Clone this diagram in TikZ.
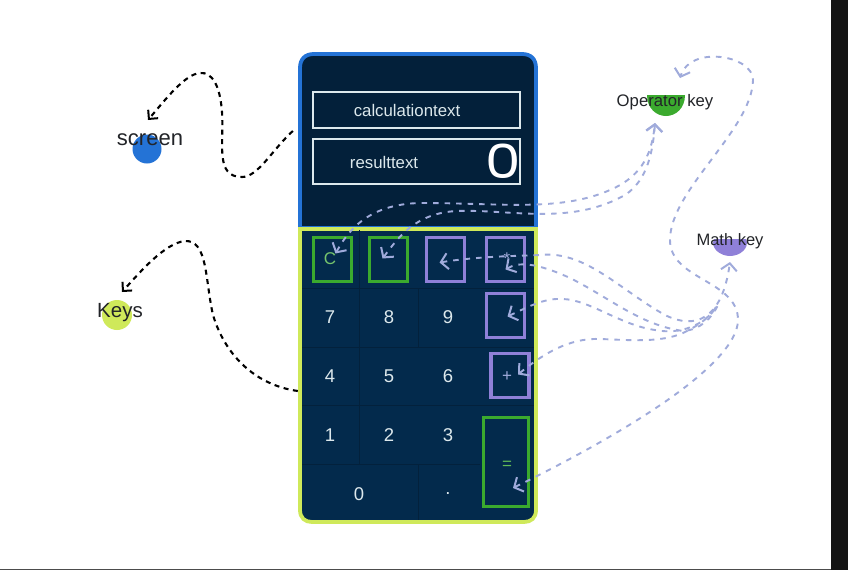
\documentclass[tikz,border=0pt]{standalone}
\usepackage{fontspec}
\setmainfont{Liberation Sans}
\newfontfamily\bigzero{Poppins}
\usetikzlibrary{arrows.meta}
\definecolor{screenbg}{HTML}{03203A}
\definecolor{keybg}{HTML}{032A4C}
\definecolor{gridc}{HTML}{03213C}
\definecolor{bluec}{HTML}{2473D6}
\definecolor{limec}{HTML}{CFE95A}
\definecolor{greenc}{HTML}{3BAA2E}
\definecolor{purplec}{HTML}{8F80D8}
\definecolor{linkc}{HTML}{A0ABDB}
\definecolor{inkc}{HTML}{222428}
\definecolor{keytext}{HTML}{DCE8EC}
\tikzset{
  opbox/.style n args={3}{draw=#1,line width=3.2pt,inner sep=0pt,minimum width=#2,minimum height=#3},
  txtbox/.style n args={2}{draw=keytext,line width=1.6pt,inner sep=0pt,minimum width=#1,minimum height=#2},
  num/.style={text=keytext,font=\fontsize{18.5}{20}\selectfont,inner sep=0pt},
  lab/.style={text=inkc,inner sep=0pt},
  dot/.style={circle,inner sep=0pt,minimum size=#1},
  blacklink/.style={draw=black,line width=2.1pt,dash pattern=on 5pt off 4.5pt,-{Straight Barb[length=6.5pt,width=13pt,line width=2pt]}},
  bluelink/.style={draw=linkc,line width=1.9pt,dash pattern=on 5.5pt off 6pt,{Straight Barb[length=7pt,width=16pt,line width=2pt]}-{Straight Barb[length=7pt,width=16pt,line width=2pt]}},
  plainlink/.style={draw=linkc,line width=1.9pt,dash pattern=on 5.5pt off 6pt,{Straight Barb[length=7pt,width=16pt,line width=2pt]}-},
}
\begin{document}
\begin{tikzpicture}[x=1pt,y=-1pt]
\useasboundingbox (0,0) rectangle (848,570);
\fill[white] (0,0) rectangle (848,570);
\fill[black!92] (831,0) rectangle (848,570);
\fill[black!70] (0,568.5) rectangle (831,570);
% panels
\path[fill=screenbg,draw=bluec,line width=3.8pt] (300,228) -- (300,68) .. controls (300,59) and (305,54) .. (314,54) -- (522,54) .. controls (531,54) and (536,59) .. (536,68) -- (536,228) -- cycle;
\path[fill=keybg,draw=limec,line width=3.8pt] (300,229) -- (536,229) -- (536,510) .. controls (536,518) and (531,522) .. (524,522) -- (312,522) .. controls (305,522) and (300,518) .. (300,510) -- cycle;
\node[inner sep=0pt,minimum width=238pt,minimum height=174pt] (screenP) at (418,141) {};
\node[inner sep=0pt,minimum width=238pt,minimum height=295pt] (keysP) at (418,376) {};
% grid
\draw[gridc,line width=.7pt] (302,288) -- (534,288) (302,347) -- (534,347) (302,405) -- (534,405) (302,464) -- (480,464);
\draw[gridc,line width=.7pt] (359,230) -- (359,464) (418,288) -- (418,347) (418,464) -- (418,520);
% text boxes
\node[txtbox={207pt}{36pt}] (calc) at (416.5,110) {};
\node[txtbox={207pt}{45pt}] (res) at (416.5,161.5) {};
\node[text=keytext,font=\fontsize{16.8}{18}\selectfont,inner sep=0pt] (calct) at (407,110) {calculationtext};
\node[text=keytext,font=\fontsize{16.8}{18}\selectfont,inner sep=0pt] (rest) at (384,162) {resulttext};
\node[text=white,font=\bigzero\fontsize{47}{50}\selectfont,inner sep=0pt] (zero) at (503,161.5) {\scalebox{1.2}[1]{0}};
% keys
\node[num] (k7) at (330,317) {7};
\node[num] (k8) at (389,317) {8};
\node[num] (k9) at (448,317) {9};
\node[num] (k4) at (330,376) {4};
\node[num] (k5) at (389,376) {5};
\node[num] (k6) at (448,376) {6};
\node[num] (k1) at (330,435) {1};
\node[num] (k2) at (389,435) {2};
\node[num] (k3) at (448,435) {3};
\node[num] (k0) at (359,494) {0};
\node[num] (kdot) at (448,494) {.};
\node[opbox={greenc}{38pt}{44pt}] (keyC) at (332.5,259.5) {};
\node[opbox={greenc}{38pt}{44pt}] (keyB) at (388.5,259.5) {};
\node[opbox={purplec}{38pt}{44pt}] (keyD) at (445.5,259.5) {};
\node[opbox={purplec}{38pt}{44pt}] (keyM) at (505.5,259.5) {};
\node[opbox={purplec}{38pt}{44pt}] (keyS) at (505.5,315.5) {};
\node[opbox={purplec}{38pt}{44pt}] (keyA) at (510,375.5) {};
\node[opbox={greenc}{45pt}{89pt}] (keyE) at (506,462) {};
\node[text=greenc!70!white,font=\fontsize{17}{18}\selectfont,inner sep=0pt] (tC) at (330,259) {C};
\node[text=linkc,font=\fontsize{17}{18}\selectfont,inner sep=0pt] (tM) at (507,259) {*};
\node[text=linkc,font=\fontsize{17}{18}\selectfont,inner sep=0pt] (tA) at (507,377) {+};
\node[text=greenc!80!white,font=\fontsize{17}{18}\selectfont,inner sep=0pt] (tE) at (507,465) {=};
% legend
\node[dot=29pt,fill=bluec] (dotS) at (147,149) {};
\node[dot=30pt,fill=limec] (dotK) at (117,315) {};
\fill[greenc] (647,95) -- (685,95) .. controls (685,108) and (676,116) .. (666,116) .. controls (656,116) and (647,108) .. (647,95) -- cycle;
\fill[purplec] (714,239) -- (746,239) .. controls (750,248) and (740,256) .. (730,256) .. controls (720,256) and (710,248) .. (714,239) -- cycle;
\node[lab,font=\fontsize{22}{24}\selectfont] (labS) at (150,140) {screen};
\node[lab,font=\fontsize{20.5}{24}\selectfont] (labK) at (120,312.5) {Keys};
\node[lab,font=\fontsize{16.7}{19}\selectfont] (labO) at (665,102.5) {Operator key};
\node[lab,font=\fontsize{16.5}{19}\selectfont] (labM) at (730,241) {Math key};
% black connectors
\draw[blacklink] ([shift={(-6,-10)}]screenP.west) .. controls (272,150) and (258,177) .. (242,177) .. controls (215,177) and (224,145) .. (222,112) .. controls (220,85) and (212,72) .. (200,73) .. controls (185,74) and (165,100) .. ([shift={(1,-29)}]dotS.center);
\draw[blacklink] ([shift={(-1,15)}]keysP.west) .. controls (255,385) and (225,355) .. (213,315) .. controls (205,280) and (208,240) .. (185,241) .. controls (165,243) and (140,272) .. ([shift={(5,-23)}]dotK.center);
% operator connectors
\draw[bluelink] ([shift={(3,-6)}]keyC.center) .. controls (346,235) and (365,203) .. (423,203) .. controls (500,203) and (560,212) .. (610,190) .. controls (645,175) and (652,150) .. ([shift={(-10,20.5)}]labO.center);
\draw[bluelink] ([shift={(-6,-1)}]keyB.center) .. controls (398,238) and (415,213) .. (457,211) .. controls (510,209) and (570,226) .. (625,195) .. controls (648,180) and (653,150) .. ([shift={(-10,20.5)}]labO.center);
\draw[bluelink] ([shift={(7,26)}]keyE.center) .. controls (570,460) and (737,375) .. (738,320) .. controls (738,280) and (670,280) .. (670,240) .. controls (670,190) and (752,130) .. (753,80) .. controls (753,55) and (690,45) .. ([shift={(15,-24.5)}]labO.center);
% math connectors
\draw[bluelink] ([shift={(-6,3)}]keyD.center) .. controls (480,256) and (520,256) .. (540,255) .. controls (585,250) and (620,290) .. (665,315) .. controls (695,330) and (722,320) .. ([shift={(0,21)}]labM.center);
\draw[plainlink] ([shift={(0,10)}]keyM.center) .. controls (518,262) and (535,262) .. (570,278) .. controls (610,298) and (640,325) .. (683,331) .. controls (700,330) and (712,318) .. (718,305);
\draw[plainlink] ([shift={(2,1)}]keyS.center) .. controls (532,305) and (545,298) .. (563,299) .. controls (590,300) and (620,325) .. (655,330) .. controls (680,335) and (705,325) .. (716,307);
\draw[plainlink] ([shift={(8,-1)}]keyA.center) .. controls (550,348) and (575,338) .. (600,339) .. controls (630,340) and (660,343) .. (683,333) .. controls (700,325) and (712,315) .. (716,307);
\end{tikzpicture}
\end{document}
